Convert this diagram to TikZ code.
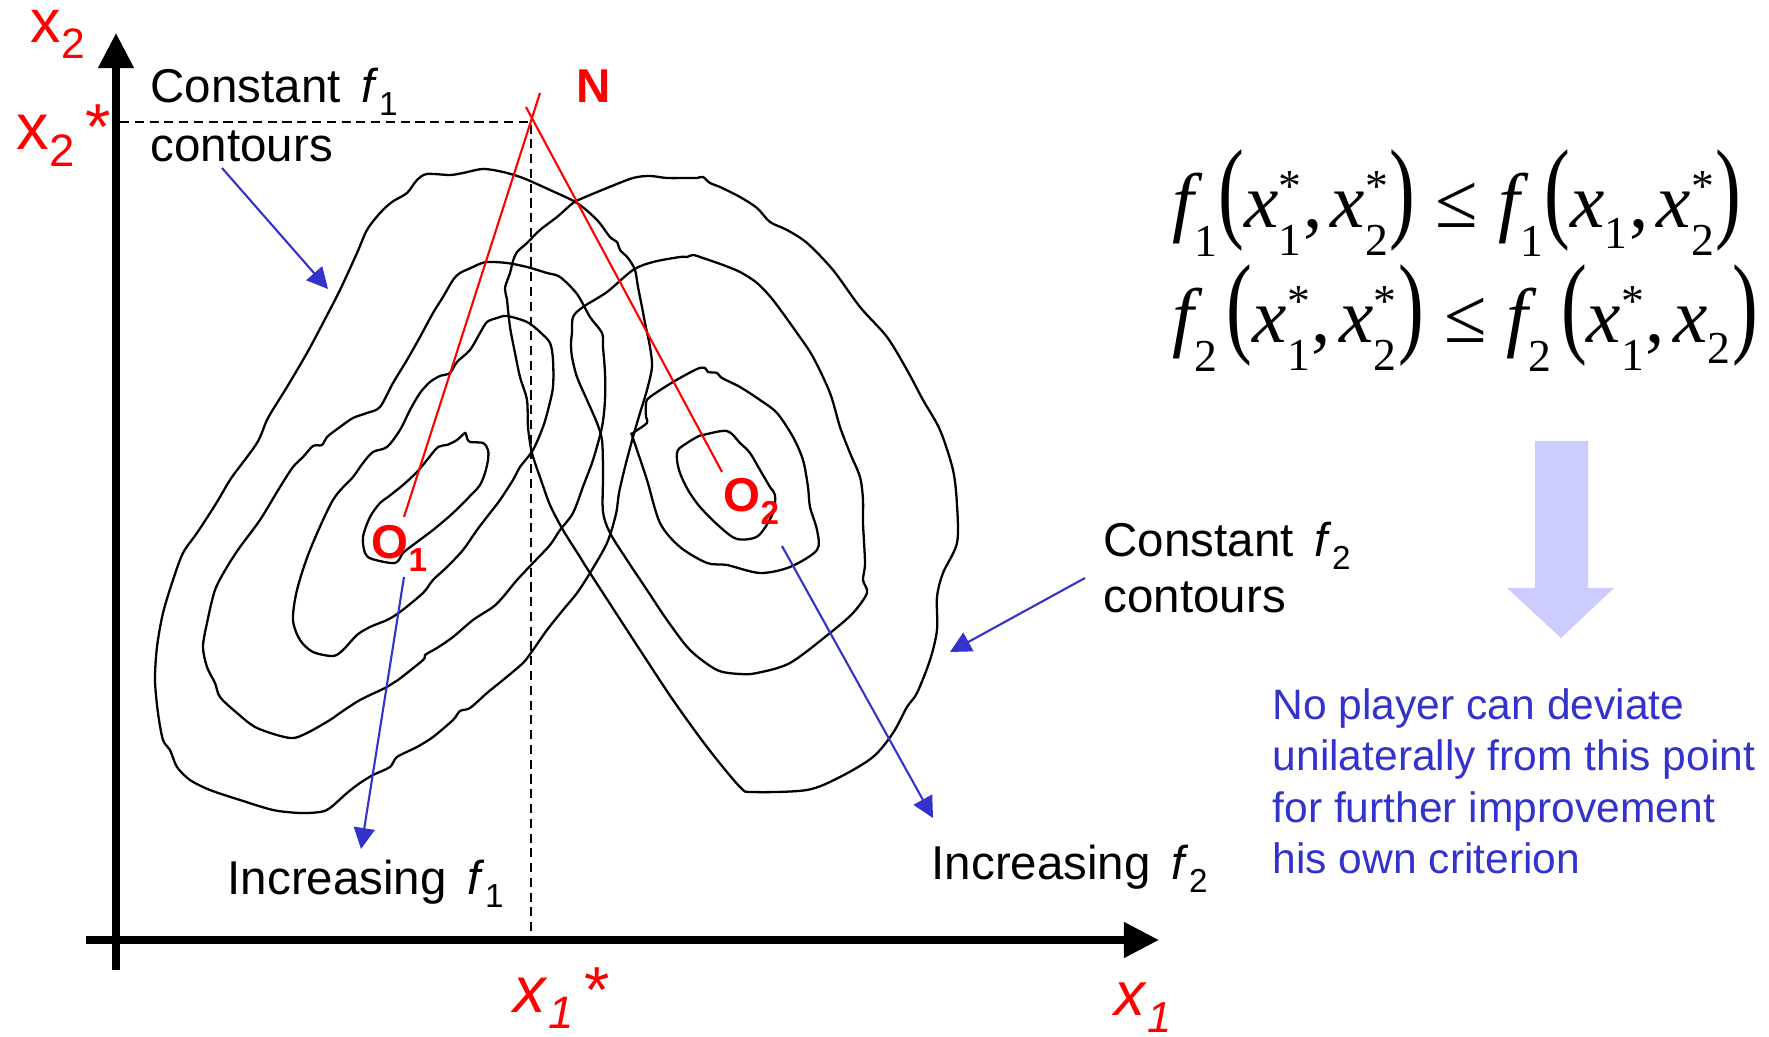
\documentclass[tikz,border=0pt]{standalone}
\usepackage{fontspec}
\setmainfont{Liberation Sans}
\newfontfamily\eqfont{Liberation Serif}
\usepackage{amsmath}
\usetikzlibrary{arrows.meta}
\definecolor{NashRed}{RGB}{255,0,0}
\definecolor{NashBlue}{RGB}{51,51,204}
\definecolor{NashPale}{RGB}{204,204,255}
\DeclareMathSizes{22}{22}{13}{9}
\newcommand{\lsub}[1]{\raisebox{-0.26em}{\scalebox{0.7}{#1}}}
\newcommand{\ev}[1]{\text{\eqfont\itshape #1}}
\newcommand{\en}[1]{\text{\eqfont\upshape #1}}
\newcommand{\es}[1]{\text{\eqfont\upshape\raisebox{-0.22em}{#1}}}
\newcommand{\lp}{\mathopen{\text{\eqfont\upshape\scalebox{1}[1.45]{(}}}}
\newcommand{\rp}{\mathclose{\text{\eqfont\upshape\scalebox{1}[1.45]{)}}}}
\newcommand{\cm}{\en{,}\mkern2mu}

\begin{document}
\begin{tikzpicture}[x=0.01cm,y=-0.01cm,
    contour/.style={line width=0.65pt},
    axis/.style={line width=2.1pt,-{Triangle[length=0.35cm,width=0.34cm]}},
    guide/.style={line width=0.5pt,dash pattern=on 2.6pt off 1.6pt},
    nashline/.style={NashRed,line width=0.6pt},
    pointer/.style={NashBlue,line width=0.6pt,-{Triangle[length=0.21cm,width=0.21cm]}},
    redlbl/.style={NashRed,inner sep=0pt,anchor=base west},
    optlbl/.style={NashRed,inner sep=0pt,anchor=base west,font=\fontsize{13.5}{15}\selectfont\bfseries},
    txt/.style={inner sep=0pt,anchor=base west,font=\fontsize{13.5}{16}\selectfont},
    cond/.style={inner sep=0pt,anchor=west,font=\fontsize{22}{26}\selectfont}]
    \useasboundingbox (0,0) rectangle (1769,1037);

    % axes and guides
    \coordinate (xaxstart) at (86,940);
    \coordinate (xaxend) at (1159,940);
    \coordinate (yaxstart) at (116,970);
    \coordinate (yaxend) at (116,33);
    \coordinate (nash) at (531,122);
    \coordinate (x2foot) at (120,122);
    \coordinate (x1foot) at (531,940);
    \draw[guide] (x2foot) -- (nash) -- (x1foot);
    \draw[axis] (xaxstart) -- (xaxend);
    \draw[axis] (yaxstart) -- (yaxend);

    % f1 contours
    \draw[contour] plot[smooth cycle,tension=0.5] coordinates {(427,174) (450,175) (463,173) (483,169) (503,172) (523,178) (550,190) (577,203) (597,220) (610,237) (617,242) (620,250) (628,258) (635,270) (638,287) (642,307) (645,323) (650,347) (652,367) (647,390) (640,413) (633,437) (625,467) (619,493) (616,514) (607,543) (590,573) (577,593) (563,610) (547,630) (533,650) (523,663) (503,680) (487,693) (470,708) (460,711) (453,720) (433,737) (417,747) (397,757) (390,767) (373,775) (360,783) (347,793) (330,808) (320,812) (300,813) (273,810) (240,800) (210,790) (190,780) (177,767) (170,750) (163,740) (158,713) (155,680) (157,647) (163,613) (173,580) (183,553) (197,533) (212,510) (220,497) (232,477) (257,443) (268,418) (287,387) (307,353) (323,323) (340,290) (357,253) (367,230) (380,213) (392,202) (407,193) (417,180)};
    \draw[contour] plot[smooth cycle,tension=0.5] coordinates {(477,265) (487,262) (507,263) (527,267) (547,273) (560,277) (577,294) (590,317) (602,333) (603,347) (605,373) (605,400) (602,427) (593,460) (584,484) (573,513) (560,530) (550,545) (533,563) (517,580) (503,597) (493,607) (473,620) (453,637) (437,648) (425,655) (423,660) (398,680) (387,687) (360,700) (340,713) (330,720) (307,733) (290,738) (257,728) (237,713) (220,697) (215,683) (207,667) (203,647) (207,623) (215,590) (227,567) (240,547) (260,520) (280,487) (293,467) (303,457) (313,446) (322,445) (327,437) (340,427) (353,418) (367,413) (380,407) (393,383) (407,360) (420,337) (433,313) (443,297) (453,280) (460,273) (473,267)};
    \draw[contour] plot[smooth cycle,tension=0.5] coordinates {(487,322) (497,318) (507,316) (527,322) (540,332) (550,343) (553,360) (553,387) (548,410) (543,427) (533,450) (520,467) (513,480) (500,500) (490,513) (477,530) (463,550) (447,567) (433,580) (423,593) (400,612) (387,620) (370,627) (357,635) (343,650) (333,656) (313,652) (300,640) (293,620) (297,590) (310,550) (333,500) (353,477) (363,463) (373,452) (387,447) (400,430) (410,410) (420,393) (430,382) (440,376) (450,373) (457,362) (470,350) (480,333)};
    \draw[contour] plot[smooth cycle,tension=0.5] coordinates {(388,497) (403,485) (417,472) (427,460) (438,447) (447,445) (457,440) (465,433) (467,438) (470,442) (483,443) (488,450) (488,460) (485,473) (480,485) (473,493) (453,513) (433,530) (413,545) (403,553) (395,563) (372,559) (365,553) (363,537) (370,517) (380,503)};

    % f2 contours
    \draw[contour] plot[smooth cycle,tension=0.5] coordinates {(650,176) (667,178) (687,178) (697,178) (703,177) (710,183) (720,187) (740,197) (757,208) (770,222) (787,230) (807,243) (833,270) (860,307) (887,337) (907,370) (923,400) (940,430) (953,470) (957,505) (957,543) (943,573) (937,597) (937,630) (930,660) (917,693) (907,707) (893,733) (873,757) (840,777) (807,790) (753,792) (740,787) (707,747) (673,700) (640,650) (590,573) (580,557) (563,530) (550,505) (541,480) (532,453) (528,427) (527,400) (520,377) (515,353) (510,327) (507,300) (505,288) (510,273) (513,261) (517,252) (527,243) (540,230) (557,217) (573,203) (583,198) (607,188) (633,178)};
    \draw[contour] plot[smooth cycle,tension=0.5] coordinates {(680,257) (687,257) (693,255) (703,258) (723,265) (740,272) (757,283) (773,300) (797,333) (813,357) (830,393) (840,427) (850,453) (860,477) (863,500) (863,523) (865,563) (863,580) (867,593) (853,613) (830,633) (790,663) (757,673) (740,674) (717,670) (690,650) (667,620) (647,590) (627,560) (610,533) (603,512) (603,480) (603,467) (602,440) (597,423) (587,400) (577,377) (572,357) (571,343) (572,333) (573,317) (583,307) (607,292) (633,270) (653,262)};
    \draw[contour] plot[smooth cycle,tension=0.5] coordinates {(650,397) (673,382) (697,369) (705,368) (708,372) (717,373) (722,378) (740,387) (760,400) (777,413) (793,437) (803,460) (808,487) (810,507) (817,530) (817,550) (790,567) (760,573) (727,565) (707,563) (680,547) (660,523) (647,480) (637,450) (632,435) (633,433) (647,423) (646,417) (646,403)};
    \draw[contour] plot[smooth cycle,tension=0.5] coordinates {(678,450) (687,443) (697,437) (703,435) (727,431) (740,443) (750,453) (760,470) (770,487) (775,495) (773,513) (758,536) (737,539) (720,527) (700,507) (688,490) (680,473) (677,460)};

    % Nash point construction
    \coordinate (n1top) at (540,93);
    \coordinate (o1end) at (404,517);
    \coordinate (n2top) at (526,107);
    \coordinate (o2end) at (722,472);
    \draw[nashline] (n1top) -- (o1end);
    \draw[nashline] (n2top) -- (o2end);

    % labels
    \node[redlbl,font=\fontsize{17.3}{20}\selectfont] (x2lbl) at (30,43) {x\lsub{2}};
    \node[redlbl,font=\fontsize{18.5}{20}\selectfont] (x2star) at (16,150) {x\lsub{2}\,*};
    \node[redlbl,font=\fontsize{18.5}{20}\selectfont] (x1star) at (513,1012) {\textit{x}\lsub{\textit{1}}\,*};
    \node[redlbl,font=\fontsize{17.6}{20}\selectfont] (x1lbl) at (1114,1016) {\textit{x}\lsub{\textit{1}}};
    \node[optlbl] (nlbl) at (576,103) {N};
    \node[optlbl] (o1lbl) at (371,559) {O\lsub{1}};
    \node[optlbl] (o2lbl) at (723,512) {O\lsub{2}};

    \node[txt] (c1top) at (150,103) {Constant \,\textit{f}\lsub{1}};
    \node[txt] (c1bot) at (150,162) {contours};
    \node[txt] (c2top) at (1103,557) {Constant \,\textit{f}\lsub{2}};
    \node[txt] (c2bot) at (1103,613) {contours};
    \node[txt] (inc1) at (227,895) {Increasing \,\textit{f}\lsub{1}};
    \node[txt] (inc2) at (931,880) {Increasing \,\textit{f}\lsub{2}};

    % pointers
    \coordinate (c1from) at (222,168);
    \coordinate (c1to) at (328,289);
    \coordinate (c2from) at (1085,578);
    \coordinate (c2to) at (950,652);
    \coordinate (i1from) at (404,577);
    \coordinate (i1to) at (361,849);
    \coordinate (i2from) at (782,546);
    \coordinate (i2to) at (933,818);
    \draw[pointer] (c1from) -- (c1to);
    \draw[pointer] (c2from) -- (c2to);
    \draw[pointer] (i1from) -- (i1to);
    \draw[pointer] (i2from) -- (i2to);

    % conditions
    \node[cond] (cond1) at (1172,203)
      {$\ev{f}_{\es{1}}\lp\ev{x}_{\es{1}}^{\en{*}}\cm\ev{x}_{\es{2}}^{\en{*}}\rp\mathrel{\en{≤}}\ev{f}_{\es{1}}\lp\ev{x}_{\es{1}}\cm\ev{x}_{\es{2}}^{\en{*}}\rp$};
    \node[cond] (cond2) at (1172,318)
      {$\ev{f}_{\es{2}}\mkern2mu\lp\ev{x}_{\es{1}}^{\en{*}}\cm\ev{x}_{\es{2}}^{\en{*}}\rp\mathrel{\en{≤}}\ev{f}_{\es{2}}\mkern2mu\lp\ev{x}_{\es{1}}^{\en{*}}\cm\ev{x}_{\es{2}}\rp$};

    \fill[NashPale] (1535,441) -- (1588,441) -- (1588,588) -- (1614,588) -- (1561,638) -- (1507,588) -- (1535,588) -- cycle;

    \node[inner sep=0pt,anchor=north west,align=left,text=NashBlue,font=\fontsize{12.1}{14.6}\selectfont] (msg) at (1272,688)
      {No player can deviate\\unilaterally from this point\\for further improvement\\his own criterion};
\end{tikzpicture}
\end{document}
